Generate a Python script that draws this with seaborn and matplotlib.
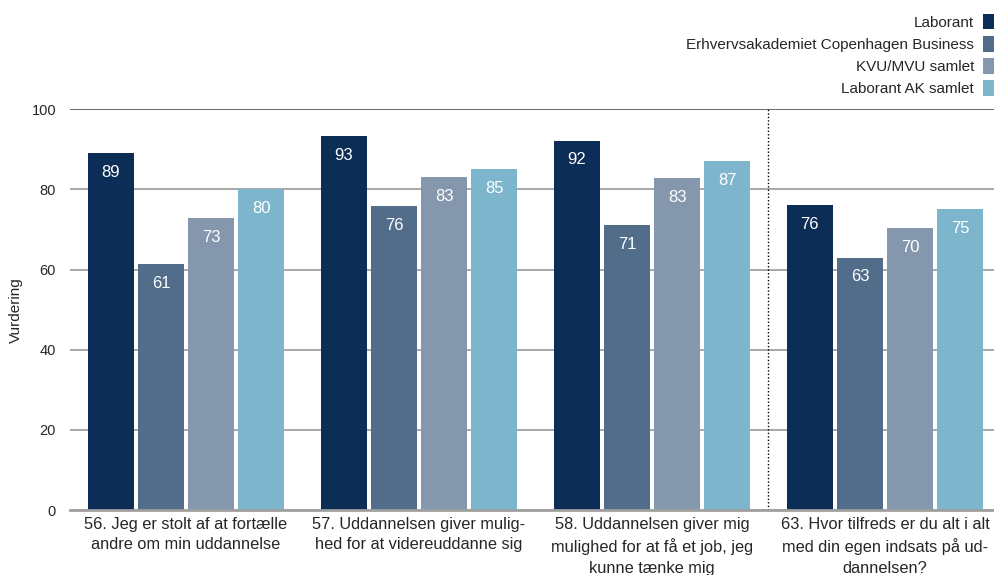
import pandas as pd
import numpy as np
import matplotlib.pyplot as plt
import seaborn as sns
from matplotlib.patches import Patch

# spørgsmål (x-akse) og serier
questions = [
    "56. Jeg er stolt af at fortælle\nandre om min uddannelse",
    "57. Uddannelsen giver mulig-\nhed for at videreuddanne sig",
    "58. Uddannelsen giver mig\nmulighed for at få et job, jeg\nkunne tænke mig",
    "63. Hvor tilfreds er du alt i alt\nmed din egen indsats på ud-\ndannelsen?",
]
series = ["Laborant", "Erhvervsakademiet Copenhagen Business",
          "KVU/MVU samlet", "Laborant AK samlet"]
laborant = [89.0, 93.4, 92.2, 76.0]
ecb = [61.4, 75.8, 71.0, 63.0]
kvu_mvu = [72.8, 83.2, 82.8, 70.4]
laborant_ak = [80.0, 85.0, 87.0, 75.0]
yticks = [0, 20, 40, 60, 80, 100]

colors = ["#0c2d55", "#526d8a", "#8597ad", "#7db6cc"]

rows = []
for name, vals in zip(series, [laborant, ecb, kvu_mvu, laborant_ak]):
    for q, v in zip(questions, vals):
        rows.append({"spm": q, "serie": name, "vurdering": v})
df = pd.DataFrame(rows)

sns.set_style("white")
plt.rcParams["font.family"] = ["Liberation Sans", "DejaVu Sans"]

fig = plt.figure(figsize=(9.94, 5.75), dpi=100)
ax = fig.add_axes([0.0704, 0.113, 0.9296, 0.697])

sns.barplot(data=df, x="spm", y="vurdering", hue="serie", order=questions,
            hue_order=series, palette=colors, width=0.86, gap=0.08,
            saturation=1, legend=False, linewidth=0, ax=ax)

# værdier i søjlerne
for p in ax.patches:
    h = p.get_height()
    if h > 0:
        ax.annotate(f"{h:.0f}", (p.get_x() + p.get_width() / 2, h),
                    xytext=(0, -14), textcoords="offset points",
                    ha="center", va="center", color="white", fontsize=12)

ax.set_xlim(-0.498, 3.468)
ax.set_ylim(0, 100)
ax.set_yticks(yticks)
ax.tick_params(axis="y", length=0, pad=10, labelsize=10.5)
ax.tick_params(axis="x", length=0, pad=5, labelsize=11.8)
for lbl in ax.get_xticklabels():
    lbl.set_linespacing(1.45)
    lbl.set_verticalalignment("top")

ax.set_xlabel("")
ax.set_ylabel("Vurdering", fontsize=11, labelpad=6)

ax.yaxis.grid(True, color="#9a9a9a", linewidth=1.2)
ax.get_ygridlines()[-1].set_color("#505050")
ax.set_axisbelow(True)
for s in ["top", "right", "left"]:
    ax.spines[s].set_visible(False)
ax.spines["bottom"].set_color("#a0a0a0")
ax.spines["bottom"].set_linewidth(2)

# skillelinje før spm. 63
ax.vlines(2.5, 0, 100, colors="black", linestyles=(0, (1, 1.5)), linewidth=1)

handles = [Patch(facecolor=c, edgecolor="none") for c in colors]
fig.legend(handles, series, loc="upper right", bbox_to_anchor=(1.0, 0.976),
           frameon=False, markerfirst=False, fontsize=11,
           handlelength=0.75, handleheight=1.2, handletextpad=0.55,
           labelspacing=0.4, borderaxespad=0, borderpad=0)

fig.savefig("out.png", dpi=100)
